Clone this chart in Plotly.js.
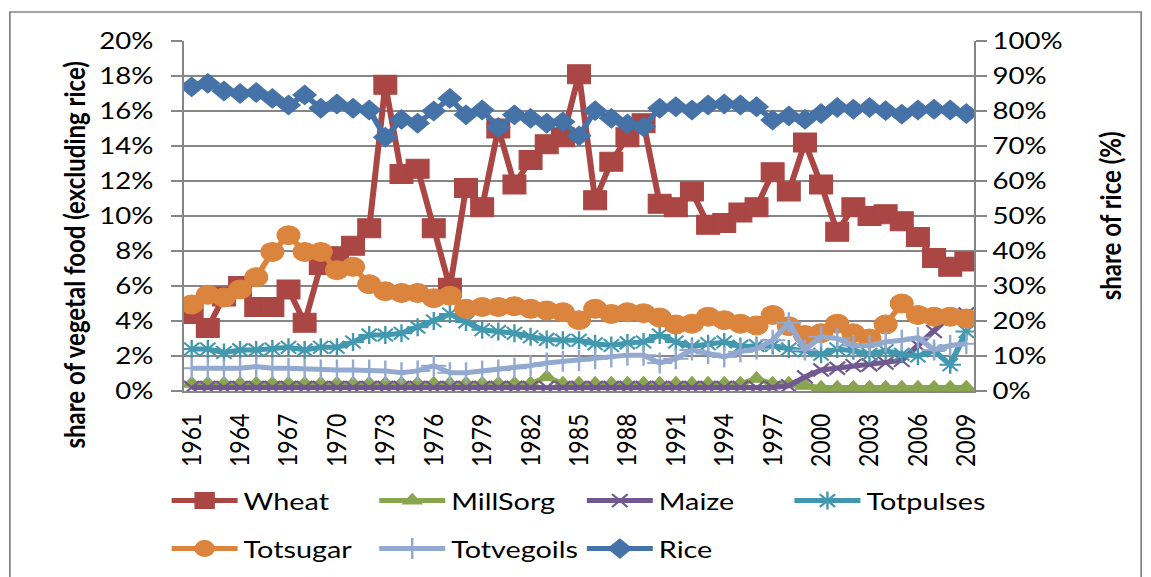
<!DOCTYPE html>
<html>
<head>
<meta charset="utf-8">
<script src="https://cdn.plot.ly/plotly-3.0.1.min.js"></script>
<style>
  html, body { margin: 0; padding: 0; background: #ffffff; overflow: hidden; }
  #chart { width: 959px; height: 577px; transform: scaleX(1.2); transform-origin: 0 0; }
</style>
</head>
<body>
<div id="chart"></div>
<script>
// ---------------- DATA ----------------
const years = [1961,1962,1963,1964,1965,1966,1967,1968,1969,1970,1971,1972,
  1973,1974,1975,1976,1977,1978,1979,1980,1981,1982,1983,1984,
  1985,1986,1987,1988,1989,1990,1991,1992,1993,1994,1995,1996,
  1997,1998,1999,2000,2001,2002,2003,2004,2005,2006,2007,2008,2009];

const wheat = [4.4,3.6,5.4,6.0,4.8,4.8,5.8,3.9,7.2,7.7,8.3,9.3,
  17.5,12.4,12.7,9.3,5.9,11.6,10.5,15.0,11.8,13.2,14.1,14.5,
  18.1,10.9,13.1,14.5,15.3,10.7,10.5,11.4,9.5,9.6,10.2,10.5,
  12.5,11.4,14.2,11.8,9.1,10.5,10.0,10.1,9.7,8.8,7.6,7.1,7.4];

const millSorg = [0.42,0.42,0.42,0.42,0.42,0.42,0.42,0.42,0.42,0.42,0.42,0.42,
  0.42,0.42,0.42,0.42,0.42,0.42,0.42,0.42,0.42,0.42,0.8,0.42,
  0.42,0.42,0.42,0.42,0.42,0.42,0.42,0.42,0.42,0.42,0.42,0.7,
  0.42,0.42,0.3,0.2,0.2,0.2,0.2,0.2,0.2,0.2,0.2,0.2,0.2];

const maize = [0.2,0.2,0.2,0.2,0.2,0.2,0.2,0.2,0.2,0.2,0.2,0.2,
  0.2,0.2,0.2,0.2,0.2,0.2,0.2,0.2,0.2,0.2,0.2,0.2,
  0.2,0.2,0.2,0.2,0.2,0.2,0.2,0.2,0.2,0.2,0.2,0.2,
  0.2,0.3,0.8,1.2,1.3,1.45,1.5,1.6,1.75,2.6,3.4,4.3,4.4];

const totPulses = [2.4,2.4,2.2,2.35,2.35,2.4,2.5,2.35,2.5,2.5,2.8,3.2,
  3.2,3.3,3.65,4.0,4.4,3.95,3.5,3.4,3.3,3.1,2.95,2.9,
  2.9,2.7,2.6,2.75,2.8,3.2,2.8,2.55,2.7,2.8,2.55,2.6,
  2.6,2.4,2.3,2.1,2.4,2.3,2.1,2.3,2.1,2.0,2.3,1.5,3.4];

const totSugar = [4.95,5.5,5.35,5.8,6.5,7.95,8.9,7.95,7.95,6.9,7.1,6.1,
  5.7,5.6,5.6,5.3,5.45,4.7,4.8,4.8,4.85,4.7,4.6,4.5,
  4.05,4.7,4.4,4.5,4.45,4.2,3.8,3.85,4.25,4.05,3.85,3.75,
  4.35,3.7,3.2,3.3,3.85,3.3,3.0,3.8,5.0,4.35,4.25,4.25,4.15];

const totVegOils = [1.3,1.3,1.25,1.3,1.4,1.3,1.3,1.25,1.2,1.2,1.2,1.2,
  1.15,1.05,1.15,1.45,1.05,1.05,1.15,1.2,1.3,1.45,1.6,1.7,
  1.75,1.85,1.95,2.05,2.05,1.6,1.85,2.35,2.15,1.95,2.25,2.4,
  2.9,3.9,2.35,3.1,3.0,2.6,2.6,2.8,2.9,3.05,2.35,2.6,2.7];

const rice = [86.9,87.9,85.7,85.0,85.3,83.6,81.7,84.6,80.8,82.0,80.8,80.3,
  72.5,77.6,76.5,80.0,83.6,78.9,80.3,75.3,78.9,77.9,76.5,76.9,
  72.9,80.1,77.9,76.3,75.5,80.8,81.2,80.3,81.7,82.0,81.7,81.2,
  77.4,78.6,77.6,79.3,81.0,80.5,81.0,80.1,79.1,80.3,80.5,80.3,79.3];

const seriesNames = ["Wheat","MillSorg","Maize","Totpulses","Totsugar","Totvegoils","Rice"];
const xTickYears = years.filter(function(y){ return (y - 1961) % 3 === 0; });

const leftTitle = "share of vegetal food (excluding rice)";
const rightTitle = "share of rice (%)";

// ---------------- STYLE ----------------
const S = 1.2;                 // horizontal stretch of the reference picture
const W0 = 1151 / S;
const H0 = 577;
const L = 183 / S, R = W0 - 975 / S, T = 41, B = H0 - 391;
const PW = W0 - L - R, PH = H0 - T - B;
function px(xr) { return (xr / S - L) / PW; }   // reference x pixel -> paper
function py(yr) { return (H0 - B - yr) / PH; }  // reference y pixel -> paper

const FONT = "Lato, 'Open Sans', 'DejaVu Sans', sans-serif";
const GRID = "#868686";
const LW = 5;

function tr(name, y, color, symbol, msize, extra) {
  return {
    type: "scatter", mode: "lines+markers", name: name,
    x: years, y: y,
    line: { color: color, width: LW },
    marker: Object.assign({ symbol: symbol, size: msize, color: color,
      line: { color: color, width: 1 } }, extra || {}),
    hoverinfo: "x+y"
  };
}

const traces = [
  Object.assign(tr(seriesNames[0], wheat, "#AA4643", "square", 19), { legend: "legend" }),
  Object.assign(tr(seriesNames[1], millSorg, "#89A54E", "triangle-up", 14), { legend: "legend" }),
  Object.assign(tr(seriesNames[2], maize, "#71588F", "x-thin-open", 13, { line: { color: "#71588F", width: 2 } }), { legend: "legend" }),
  Object.assign(tr(seriesNames[3], totPulses, "#4198AF", "asterisk-open", 15, { line: { color: "#4198AF", width: 2 } }), { legend: "legend" }),
  Object.assign(tr(seriesNames[4], totSugar, "#DB843D", "circle", 19), { legend: "legend2" }),
  Object.assign(tr(seriesNames[5], totVegOils, "#93A9CF", "cross-thin-open", 15, { line: { color: "#93A9CF", width: 2 } }), { legend: "legend2" }),
  Object.assign(tr(seriesNames[6], rice, "#4572A7", "diamond", 15), { legend: "legend2", yaxis: "y2" })
];

const tickFont = { family: FONT, size: 23, color: "#000000" };
const legFont = { family: FONT, size: 24, color: "#000000" };
const titleFont = { family: FONT, size: 24, color: "#000000", weight: "bold" };

const layout = {
  width: W0, height: H0,
  margin: { l: L, r: R, t: T, b: B, pad: 0, autoexpand: false },
  paper_bgcolor: "#ffffff", plot_bgcolor: "#ffffff",
  showlegend: true,
  xaxis: {
    range: [1960.5, 2009.5], tickvals: xTickYears, ticktext: xTickYears.map(String),
    tickangle: -90, tickfont: tickFont, showgrid: false, zeroline: false,
    showline: true, linecolor: GRID, linewidth: 1.5, ticks: "", ticklabelstandoff: 12,
    automargin: false, fixedrange: true
  },
  yaxis: {
    range: [0, 20], dtick: 2, ticksuffix: "%", tickfont: tickFont,
    showgrid: true, gridcolor: GRID, gridwidth: 1.5, zeroline: false,
    showline: true, linecolor: GRID, linewidth: 1.5, ticklabelstandoff: 10,
    ticks: "outside", ticklen: 9, tickcolor: GRID, tickwidth: 1.5,
    automargin: false, fixedrange: true
  },
  yaxis2: {
    overlaying: "y", side: "right", range: [0, 100], dtick: 10, ticksuffix: "%",
    tickfont: tickFont, showgrid: false, zeroline: false,
    showline: true, linecolor: GRID, linewidth: 1.5,
    ticks: "outside", ticklen: 9, tickcolor: GRID, tickwidth: 1.5,
    automargin: false, fixedrange: true
  },
  legend: {
    orientation: "h", x: px(165), xanchor: "left", y: py(501), yanchor: "middle",
    font: legFont, entrywidth: 103, itemwidth: 55, bgcolor: "rgba(0,0,0,0)", traceorder: "normal"
  },
  legend2: {
    orientation: "h", x: px(165), xanchor: "left", y: py(549), yanchor: "middle",
    font: legFont, entrywidth: 103, itemwidth: 55, bgcolor: "rgba(0,0,0,0)", traceorder: "normal"
  },
  annotations: [
    { text: leftTitle, xref: "paper", yref: "paper",
      x: px(72), y: py(255), xanchor: "center", yanchor: "middle", textangle: -90,
      showarrow: false, font: titleFont },
    { text: rightTitle, xref: "paper", yref: "paper",
      x: px(1110), y: py(216), xanchor: "center", yanchor: "middle", textangle: -90,
      showarrow: false, font: titleFont }
  ],
  shapes: [
    { type: "rect", xref: "paper", yref: "paper",
      x0: px(9), x1: px(1142), y0: py(640), y1: py(12),
      line: { color: GRID, width: 1.5 }, fillcolor: "rgba(0,0,0,0)", layer: "below" }
  ]
};

Plotly.newPlot("chart", traces, layout, { displayModeBar: false, staticPlot: true });
</script>
</body>
</html>
